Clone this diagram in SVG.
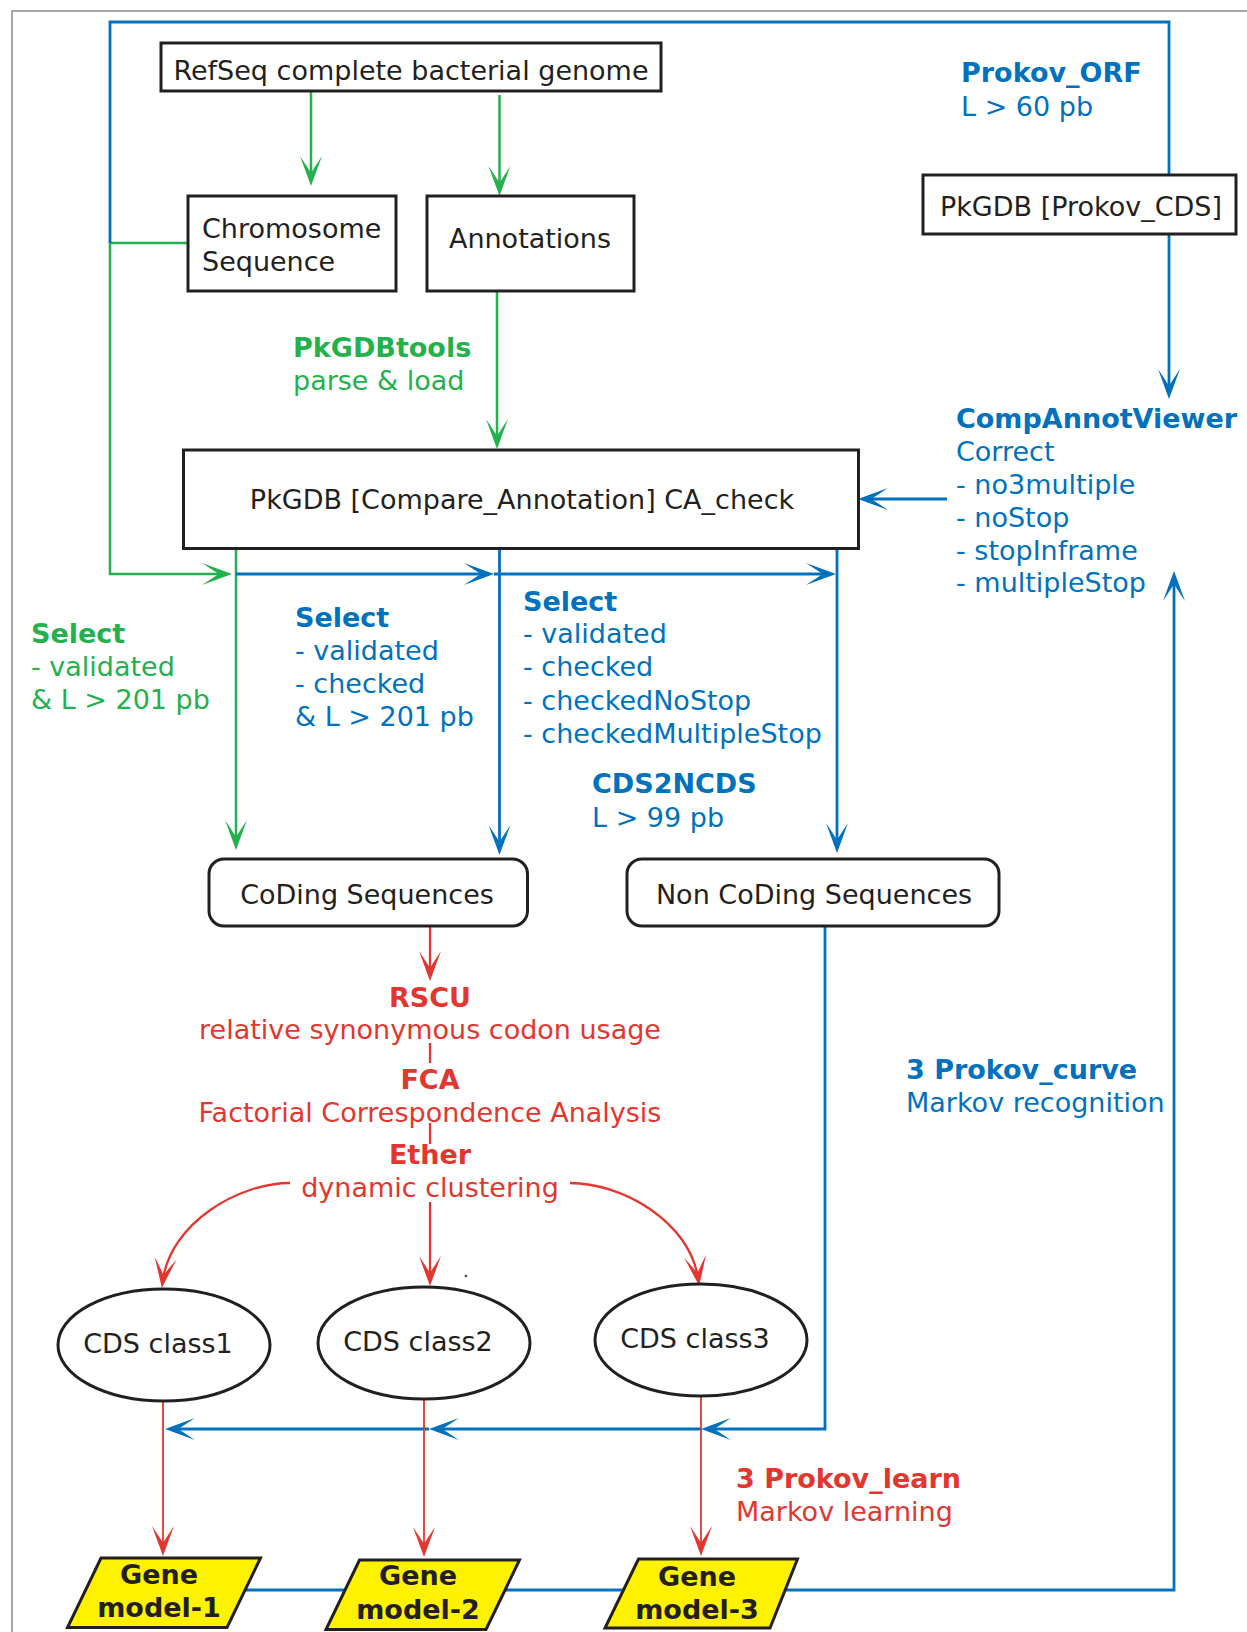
<svg xmlns="http://www.w3.org/2000/svg" width="1247" height="1632" viewBox="0 0 1247 1632">
  <style>
    text { font-family: "DejaVu Sans", Verdana, sans-serif; font-size: 27px; }
    .b { font-weight: bold; }
    .mid { text-anchor: middle; }
    .ink { fill: #231f20; }
    .tg { fill: #22b14c; }
    .tb { fill: #0071bc; }
    .tr { fill: #e2362e; }
    .box { fill: #ffffff; stroke: #231f20; stroke-width: 3; }
    .oval { fill: #ffffff; stroke: #231f20; stroke-width: 3; }
    .gm { fill: #fff200; stroke: #231f20; stroke-width: 3; stroke-linejoin: miter; }
    .cg { fill: none; stroke: #22b14c; stroke-width: 2.5; }
    .cb { fill: none; stroke: #0071bc; stroke-width: 2.8; }
    .cr { fill: none; stroke: #e2362e; stroke-width: 2.3; }
    .crt { fill: none; stroke: #e2362e; stroke-width: 1.8; }
    .ag { marker-end: url(#arrow-green); }
    .ab { marker-end: url(#arrow-blue); }
    .ar { marker-end: url(#arrow-red); }
  </style>
  <defs>
    <marker id="arrow-green" markerUnits="userSpaceOnUse" orient="auto" refX="0" refY="0" viewBox="-26 -12 34 24" markerWidth="34" markerHeight="24" overflow="visible">
      <path d="M6,0 L-24,-11 Q-12,-3 -7,0 Q-12,3 -24,11 Z" fill="#22b14c"/>
    </marker>
    <marker id="arrow-blue" markerUnits="userSpaceOnUse" orient="auto" refX="0" refY="0" viewBox="-26 -12 34 24" markerWidth="34" markerHeight="24" overflow="visible">
      <path d="M6,0 L-24,-11 Q-12,-3 -7,0 Q-12,3 -24,11 Z" fill="#0071bc"/>
    </marker>
    <marker id="arrow-red" markerUnits="userSpaceOnUse" orient="auto" refX="0" refY="0" viewBox="-26 -12 34 24" markerWidth="34" markerHeight="24" overflow="visible">
      <path d="M6,0 L-24,-11 Q-12,-3 -7,0 Q-12,3 -24,11 Z" fill="#e2362e"/>
    </marker>
  </defs>

  <rect x="0" y="0" width="1247" height="1632" fill="#ffffff"/>
  <!-- frame -->
  <rect x="12" y="11" width="1260" height="1650" fill="none" stroke="#8a8a8a" stroke-width="1.5"/>

  <!-- connectors -->
  <g id="connectors">
    <!-- green: genome loading -->
    <path class="cg ag" d="M311,91 L311,180"/>
    <path class="cg ag" d="M499.5,95 L499.5,190"/>
    <path class="cg ag" d="M188,243 L110,243 L110,574 L226,574"/>
    <path class="cg ag" d="M497,291 L497,443"/>
    <path class="cg ag" d="M236,549 L236,844"/>

    <!-- blue: outer loop and selections -->
    <path class="cb" d="M110,243 L110,22 L1169,22 L1169,175"/>
    <path class="cb ab" d="M1169,234 L1169,393"/>
    <path class="cb ab" d="M947,499 L864,499"/>
    <path class="cb ab" d="M236,574 L488,574"/>
    <path class="cb ab" d="M494,574 L830,574"/>
    <path class="cb ab" d="M499.5,549 L499.5,849"/>
    <path class="cb ab" d="M837,549 L837,847"/>
    <path class="cb ab" d="M825,926 L825,1429 L707,1429"/>
    <path class="cb ab" d="M701,1429 L435,1429"/>
    <path class="cb ab" d="M429,1429 L171,1429"/>
    <path class="cb ab" d="M240,1590 L1174,1590 L1174,577"/>

    <!-- red: clustering pipeline -->
    <path class="cr ar" d="M430,926 L430,975"/>
    <path class="cr" d="M430,1043 L430,1063"/>
    <path class="cr" d="M430,1123 L430,1144"/>
    <path class="cr ar" d="M430,1202 L430,1280"/>
    <path class="cr ar" d="M290,1183 C240,1183 170,1222 162.6,1282"/>
    <path class="cr ar" d="M570,1183 C620,1183 690,1220 698.4,1280"/>
    <path class="crt ar" d="M163,1401 L163,1550"/>
    <path class="crt ar" d="M424,1399 L424,1551"/>
    <path class="crt ar" d="M701,1396 L701,1550"/>
  </g>

  <!-- boxes -->
  <g id="refseq">
    <rect class="box" x="161" y="43" width="500" height="48"/>
    <text class="ink mid" x="411" y="80">RefSeq complete bacterial genome</text>
  </g>
  <g id="chromosome">
    <rect class="box" x="188" y="196" width="208" height="95"/>
    <text class="ink" x="202" y="238">Chromosome</text>
    <text class="ink" x="202" y="270.5">Sequence</text>
  </g>
  <g id="annotations">
    <rect class="box" x="427" y="196" width="207" height="95"/>
    <text class="ink mid" x="530" y="248">Annotations</text>
  </g>
  <g id="prokov-cds">
    <rect class="box" x="923" y="175" width="313" height="59"/>
    <text class="ink mid" x="1081" y="215.5">PkGDB [Prokov_CDS]</text>
  </g>
  <g id="ca-check">
    <rect class="box" x="183.5" y="450" width="675" height="98.5"/>
    <text class="ink mid" x="522" y="509">PkGDB [Compare_Annotation] CA_check</text>
  </g>
  <g id="coding">
    <rect class="box" x="209" y="859" width="318.5" height="67" rx="15" ry="15"/>
    <text class="ink mid" x="367" y="904">CoDing Sequences</text>
  </g>
  <g id="non-coding">
    <rect class="box" x="627" y="859" width="372" height="67" rx="15" ry="15"/>
    <text class="ink mid" x="814" y="904">Non CoDing Sequences</text>
  </g>

  <!-- class ellipses -->
  <g id="cds-class1">
    <ellipse class="oval" cx="164" cy="1345" rx="106" ry="56"/>
    <text class="ink mid" x="158" y="1353">CDS class1</text>
  </g>
  <g id="cds-class2">
    <ellipse class="oval" cx="424" cy="1343" rx="106" ry="56"/>
    <text class="ink mid" x="418" y="1351">CDS class2</text>
  </g>
  <g id="cds-class3">
    <ellipse class="oval" cx="701" cy="1340" rx="106" ry="56"/>
    <text class="ink mid" x="695" y="1348">CDS class3</text>
  </g>
  <text class="ink" x="463" y="1277" style="font-size:18px">.</text>

  <!-- gene models -->
  <g id="gene-model-1">
    <polygon class="gm" points="101,1558 260.5,1558 227,1627.5 67.5,1627.5"/>
    <text class="ink mid b" x="159" y="1584">Gene</text>
    <text class="ink mid b" x="159" y="1617">model-1</text>
  </g>
  <g id="gene-model-2">
    <polygon class="gm" points="359.5,1560 519.5,1560 486,1629.5 326,1629.5"/>
    <text class="ink mid b" x="418" y="1585">Gene</text>
    <text class="ink mid b" x="418" y="1619">model-2</text>
  </g>
  <g id="gene-model-3">
    <polygon class="gm" points="638.5,1559 797.5,1559 770,1628 605,1628"/>
    <text class="ink mid b" x="697" y="1585.5">Gene</text>
    <text class="ink mid b" x="697" y="1619">model-3</text>
  </g>

  <!-- labels -->
  <g id="label-prokov-orf" class="tb">
    <text class="b" x="961" y="82">Prokov_ORF</text>
    <text x="961" y="115.5">L &gt; 60 pb</text>
  </g>
  <g id="label-pkgdbtools" class="tg">
    <text class="b" x="293" y="357">PkGDBtools</text>
    <text x="293" y="390">parse &amp; load</text>
  </g>
  <g id="label-compannotviewer" class="tb">
    <text class="b" x="956" y="428">CompAnnotViewer</text>
    <text x="956" y="460.5">Correct</text>
    <text x="956" y="494">- no3multiple</text>
    <text x="956" y="527">- noStop</text>
    <text x="956" y="559.5">- stopInframe</text>
    <text x="956" y="592">- multipleStop</text>
  </g>
  <g id="label-select-green" class="tg">
    <text class="b" x="31" y="643">Select</text>
    <text x="31" y="676">- validated</text>
    <text x="31" y="709">&amp; L &gt; 201 pb</text>
  </g>
  <g id="label-select-blue-1" class="tb">
    <text class="b" x="295" y="627">Select</text>
    <text x="295" y="660">- validated</text>
    <text x="295" y="693">- checked</text>
    <text x="295" y="726">&amp; L &gt; 201 pb</text>
  </g>
  <g id="label-select-blue-2" class="tb">
    <text class="b" x="523" y="611">Select</text>
    <text x="523" y="643">- validated</text>
    <text x="523" y="676">- checked</text>
    <text x="523" y="709.5">- checkedNoStop</text>
    <text x="523" y="742.5">- checkedMultipleStop</text>
  </g>
  <g id="label-cds2ncds" class="tb">
    <text class="b" x="592" y="793">CDS2NCDS</text>
    <text x="592" y="826.5">L &gt; 99 pb</text>
  </g>
  <g id="label-pipeline" class="tr">
    <text class="b mid" x="430" y="1007">RSCU</text>
    <text class="mid" x="430" y="1039">relative synonymous codon usage</text>
    <text class="b mid" x="430" y="1089">FCA</text>
    <text class="mid" x="430" y="1121.5">Factorial Correspondence Analysis</text>
    <text class="b mid" x="430" y="1164">Ether</text>
    <text class="mid" x="430" y="1196.5">dynamic clustering</text>
  </g>
  <g id="label-prokov-curve" class="tb">
    <text class="b" x="906" y="1079">3 Prokov_curve</text>
    <text x="906" y="1111.5">Markov recognition</text>
  </g>
  <g id="label-prokov-learn" class="tr">
    <text class="b" x="736" y="1488">3 Prokov_learn</text>
    <text x="736" y="1520.5">Markov learning</text>
  </g>
</svg>
